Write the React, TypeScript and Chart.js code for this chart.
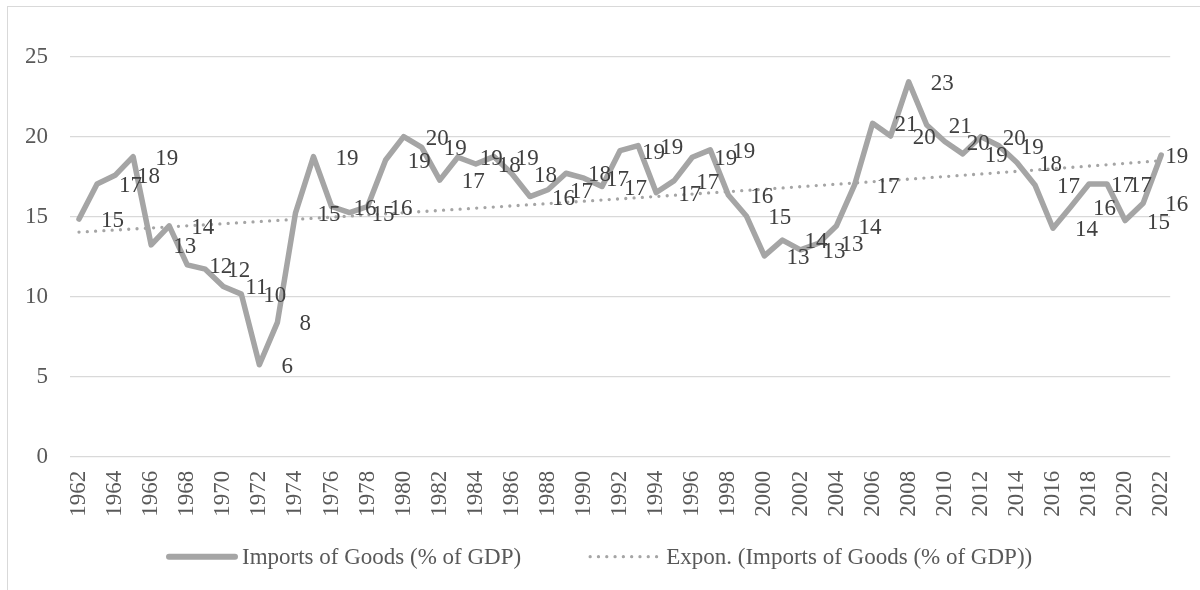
import React, { useEffect, useRef } from "react";
import { Chart, registerables } from "chart.js";
Chart.register(...registerables);

const years = [
  "1962", "1963", "1964", "1965", "1966", "1967", "1968", "1969", "1970", "1971",
  "1972", "1973", "1974", "1975", "1976", "1977", "1978", "1979", "1980", "1981",
  "1982", "1983", "1984", "1985", "1986", "1987", "1988", "1989", "1990", "1991",
  "1992", "1993", "1994", "1995", "1996", "1997", "1998", "1999", "2000", "2001",
  "2002", "2003", "2004", "2005", "2006", "2007", "2008", "2009", "2010", "2011",
  "2012", "2013", "2014", "2015", "2016", "2017", "2018", "2019", "2020", "2021",
  "2022",
];

const imports = [
  14.86, 17.06, 17.6, 18.77, 13.25, 14.44, 12.0, 11.73, 10.65, 10.17,
  5.75, 8.4, 15.23, 18.77, 15.65, 15.27, 15.65, 18.56, 20.02, 19.35,
  17.3, 18.73, 18.31, 18.77, 17.7, 16.27, 16.7, 17.73, 17.42, 16.9,
  19.15, 19.46, 16.52, 17.27, 18.73, 19.19, 16.37, 15.06, 12.56, 13.55,
  12.94, 13.35, 14.45, 17.0, 20.85, 20.06, 23.45, 20.75, 19.71, 18.94,
  20.02, 19.45, 18.4, 17.0, 14.29, 15.65, 17.06, 17.06, 14.77, 15.85,
  18.87,
];

const yMin = 0;
const yMax = 25;
const yStep = 5;

const seriesName = "Imports of Goods (% of GDP)";
const trendName = "Expon. (Imports of Goods (% of GDP))";

const FONT = "'Liberation Serif', 'Times New Roman', serif";
const FS = 23;
const LINE = "#A5A5A5";
const AXIS_TEXT = "#595959";
const LABEL_TEXT = "#404040";

// Exponential least-squares trend (regression of ln(y) on index), as Excel does
function expTrend(vals: number[]): number[] {
  const n = vals.length;
  let st = 0, sl = 0, stt = 0, stl = 0;
  vals.forEach((v, i) => {
    const t = i + 1;
    const l = Math.log(v);
    st += t; sl += l; stt += t * t; stl += t * l;
  });
  const b = (n * stl - st * sl) / (n * stt - st * st);
  const a = (sl - b * st) / n;
  return vals.map((_, i) => Math.exp(a + b * (i + 1)));
}

export default function App() {
  const ref = useRef<HTMLCanvasElement>(null);

  useEffect(() => {
    if (!ref.current) return;
    const trend = expTrend(imports);

    const labelPlugin = {
      id: "dataLabels",
      afterDatasetsDraw(chart: any) {
        const ctx = chart.ctx;
        const meta = chart.getDatasetMeta(0);
        ctx.save();
        ctx.font = `${FS}px ${FONT}`;
        ctx.fillStyle = LABEL_TEXT;
        ctx.textBaseline = "middle";
        ctx.textAlign = "left";
        const maxRight = chart.chartArea.right + 18;
        meta.data.forEach((pt: any, i: number) => {
          const txt = String(Math.round(imports[i]));
          const w = ctx.measureText(txt).width;
          let x = pt.x + 22;
          if (x + w > maxRight) x = maxRight - w;
          ctx.fillText(txt, x, pt.y + 2);
        });
        ctx.restore();
      },
    };

    const legendPlugin = {
      id: "customLegend",
      afterDraw(chart: any) {
        const ctx = chart.ctx;
        const y = 549.7;
        ctx.save();
        ctx.font = `${FS}px ${FONT}`;
        ctx.textBaseline = "middle";
        ctx.textAlign = "left";
        // solid line sample
        ctx.strokeStyle = LINE;
        ctx.lineWidth = 6;
        ctx.lineCap = "round";
        ctx.beginPath();
        ctx.moveTo(161, y);
        ctx.lineTo(227, y);
        ctx.stroke();
        ctx.fillStyle = AXIS_TEXT;
        ctx.fillText(seriesName, 234, y + 1);
        const w1 = ctx.measureText(seriesName).width;
        const x2 = 234 + w1 + 69;
        // dotted sample
        ctx.lineWidth = 3.3;
        ctx.setLineDash([0, 8.3]);
        ctx.beginPath();
        ctx.moveTo(x2, y);
        ctx.lineTo(x2 + 70, y);
        ctx.stroke();
        ctx.setLineDash([]);
        ctx.fillText(trendName, x2 + 76, y + 1);
        ctx.restore();
      },
    };

    const chart = new Chart(ref.current, {
      type: "line",
      data: {
        labels: years,
        datasets: [
          {
            label: seriesName,
            data: imports,
            borderColor: LINE,
            backgroundColor: LINE,
            borderWidth: 5.5,
            pointRadius: 0,
            tension: 0,
            borderJoinStyle: "round",
            borderCapStyle: "round",
            fill: false,
          },
          {
            label: trendName,
            data: trend,
            borderColor: LINE,
            backgroundColor: LINE,
            borderWidth: 3.3,
            borderDash: [0, 8.3],
            borderCapStyle: "round",
            pointRadius: 0,
            tension: 0,
            fill: false,
          },
        ],
      },
      options: {
        responsive: false,
        animation: false,
        layout: { padding: { top: 50, left: 0, right: 26.3, bottom: 63.3 } },
        plugins: {
          legend: { display: false },
          tooltip: { enabled: false },
          title: { display: false },
        },
        scales: {
          x: {
            type: "category",
            offset: true,
            grid: { display: false, drawTicks: false },
            border: { display: false },
            ticks: {
              autoSkip: false,
              maxRotation: 90,
              minRotation: 90,
              padding: 14,
              color: AXIS_TEXT,
              font: { family: FONT, size: FS },
              callback: (_v: any, i: number) => (i % 2 === 0 ? years[i] : ""),
            },
            afterFit: (s: any) => {
              s.height = 70;
            },
          },
          y: {
            min: yMin,
            max: yMax,
            grid: { color: "#D9D9D9", lineWidth: 1.3, drawTicks: false },
            border: { display: false },
            ticks: {
              stepSize: yStep,
              padding: 22,
              color: AXIS_TEXT,
              font: { family: FONT, size: FS },
            },
            afterFit: (s: any) => {
              s.width = 62;
            },
          },
        },
      },
      plugins: [labelPlugin, legendPlugin],
    });
    return () => chart.destroy();
  }, []);

  return (
    <div
      style={{
        position: "absolute",
        left: 7,
        top: 6,
        width: 1195,
        height: 600,
        border: "1px solid #D9D9D9",
        background: "#fff",
      }}
    >
      <canvas ref={ref} width={1195} height={583} style={{ display: "block", width: 1195, height: 583 }} />
    </div>
  );
}
